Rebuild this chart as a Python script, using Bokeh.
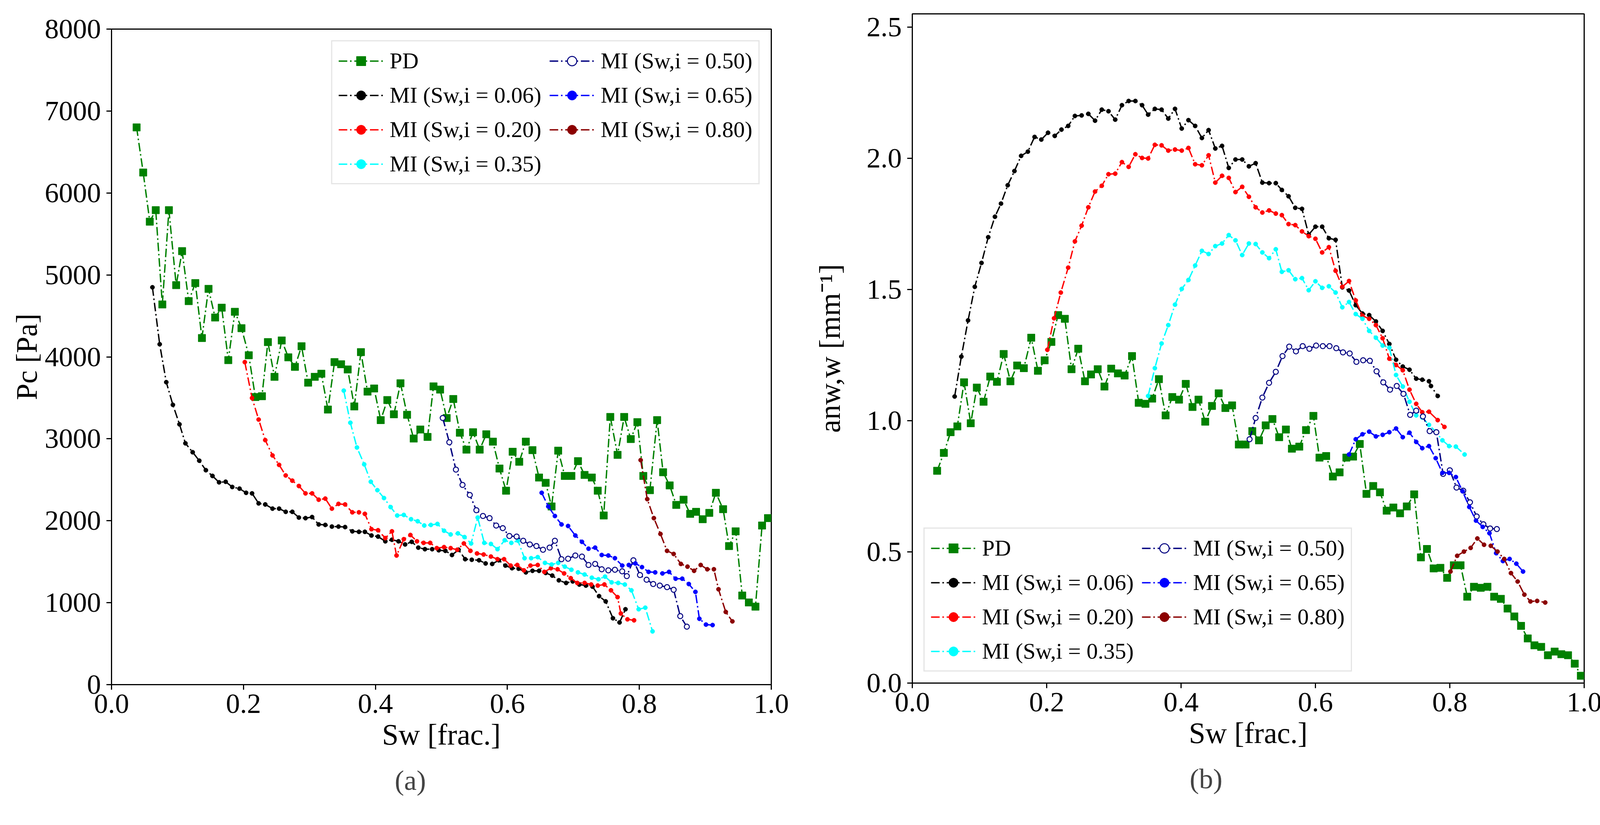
from bokeh.plotting import figure
from bokeh.layouts import row, column, Spacer
from bokeh.models import FixedTicker, PrintfTickFormatter, Title, Range1d
from bokeh.embed import file_html
from bokeh.resources import INLINE

# ---------------- data: panel (a)  Pc vs Sw ----------------
pd_sw_a = [0.038, 0.048, 0.058, 0.067, 0.077, 0.087, 0.098, 0.107, 0.117, 0.127, 0.137, 0.147,
           0.157, 0.167, 0.177, 0.187, 0.197, 0.208, 0.218, 0.228, 0.237, 0.247, 0.258, 0.268,
           0.278, 0.288, 0.298, 0.308, 0.318, 0.328, 0.338, 0.348, 0.358, 0.368, 0.378, 0.388,
           0.398, 0.408, 0.418, 0.428, 0.438, 0.448, 0.458, 0.468, 0.479, 0.488, 0.498, 0.508,
           0.518, 0.528, 0.538, 0.548, 0.558, 0.568, 0.578, 0.588, 0.598, 0.608, 0.618, 0.628,
           0.638, 0.648, 0.658, 0.667, 0.677, 0.687, 0.697, 0.707, 0.717, 0.728, 0.737, 0.746,
           0.756, 0.767, 0.777, 0.787, 0.797, 0.806, 0.816, 0.827, 0.836, 0.846, 0.856, 0.867,
           0.877, 0.886, 0.896, 0.906, 0.916, 0.927, 0.936, 0.946, 0.956, 0.966, 0.976, 0.986, 0.995]
pd_pc = [6800, 6250, 5650, 5790, 4640, 5790, 4875, 5290, 4680, 4900, 4230, 4830,
         4480, 4600, 3960, 4550, 4350, 4020, 3510, 3520, 4180, 3756, 4200, 3994,
         3878, 4130, 3685, 3756, 3794, 3357, 3936, 3910, 3846, 3395, 4058, 3576,
         3614, 3228, 3473, 3299, 3678, 3293, 3003, 3113, 3023, 3640, 3601, 3254,
         3486, 3074, 2868, 3080, 2868, 3055, 2965, 2637, 2367, 2842, 2720, 2965,
         2862, 2527, 2463, 2174, 2855, 2547, 2547, 2727, 2559, 2527, 2367, 2064,
         3267, 2804, 3267, 2997, 3203, 2547, 2373, 3228, 2592, 2431, 2193, 2257,
         2084, 2109, 2019, 2096, 2341, 2141, 1691, 1871, 1087, 1003, 952, 1942, 2032]

mi006_sw_a = [0.062, 0.073, 0.083, 0.093, 0.103, 0.112, 0.123, 0.133, 0.143, 0.153, 0.163, 0.173,
              0.183, 0.194, 0.204, 0.213, 0.223, 0.233, 0.244, 0.254, 0.264, 0.274, 0.284, 0.294,
              0.304, 0.314, 0.324, 0.334, 0.344, 0.354, 0.365, 0.375, 0.384, 0.394, 0.404, 0.415,
              0.425, 0.435, 0.445, 0.455, 0.465, 0.475, 0.486, 0.496, 0.506, 0.516, 0.526, 0.536,
              0.546, 0.557, 0.567, 0.577, 0.587, 0.597, 0.607, 0.617, 0.628, 0.638, 0.648, 0.658,
              0.668, 0.678, 0.689, 0.699, 0.709, 0.719, 0.729, 0.739, 0.749, 0.760, 0.770, 0.779]
mi006_pc = [4849, 4154, 3691, 3415, 3177, 2945, 2836, 2733, 2617, 2547, 2469, 2476,
            2412, 2392, 2341, 2334, 2212, 2199, 2148, 2148, 2109, 2109, 2039, 2032,
            2045, 1955, 1949, 1929, 1929, 1923, 1871, 1865, 1865, 1820, 1807, 1749,
            1768, 1749, 1711, 1743, 1672, 1653, 1653, 1640, 1633, 1582, 1646, 1531,
            1524, 1518, 1479, 1473, 1518, 1453, 1421, 1415, 1370, 1389, 1389, 1363,
            1331, 1273, 1241, 1260, 1222, 1209, 1196, 1080, 1016, 810, 759, 920]

mi020_sw_a = [0.202, 0.213, 0.223, 0.233, 0.244, 0.254, 0.264, 0.274, 0.284, 0.294, 0.304, 0.314,
              0.324, 0.334, 0.344, 0.354, 0.365, 0.375, 0.384, 0.394, 0.404, 0.415, 0.425, 0.432,
              0.443, 0.453, 0.463, 0.473, 0.483, 0.493, 0.504, 0.514, 0.524, 0.534, 0.544, 0.554,
              0.564, 0.575, 0.585, 0.595, 0.605, 0.615, 0.625, 0.635, 0.646, 0.656, 0.666, 0.676,
              0.686, 0.696, 0.706, 0.717, 0.727, 0.737, 0.747, 0.757, 0.767, 0.772, 0.782, 0.792]
mi020_pc = [3936, 3498, 3235, 2984, 2797, 2682, 2553, 2489, 2424, 2334, 2334, 2257,
            2270, 2148, 2206, 2199, 2103, 2103, 2084, 1897, 1884, 1788, 1871, 1576,
            1775, 1826, 1749, 1730, 1730, 1666, 1678, 1666, 1646, 1723, 1633, 1601,
            1588, 1563, 1531, 1531, 1453, 1460, 1395, 1453, 1460, 1376, 1421, 1408,
            1357, 1299, 1241, 1241, 1222, 1209, 1222, 1151, 1068, 868, 797, 785]

mi035_sw_a = [0.352, 0.362, 0.372, 0.383, 0.393, 0.403, 0.413, 0.423, 0.433, 0.443, 0.454, 0.464,
              0.474, 0.484, 0.494, 0.504, 0.514, 0.525, 0.535, 0.545, 0.555, 0.565, 0.575, 0.585,
              0.596, 0.606, 0.616, 0.626, 0.636, 0.646, 0.657, 0.667, 0.677, 0.687, 0.697, 0.707,
              0.717, 0.728, 0.738, 0.748, 0.758, 0.768, 0.778, 0.788, 0.799, 0.809, 0.820]
mi035_pc = [3588, 3196, 2894, 2688, 2476, 2373, 2277, 2167, 2064, 2071, 2019, 1994,
            1942, 1949, 1961, 1878, 1833, 1846, 1801, 1723, 2039, 1730, 1717, 1653,
            1762, 1730, 1756, 1543, 1543, 1556, 1486, 1466, 1486, 1440, 1402, 1370,
            1344, 1305, 1286, 1318, 1248, 1241, 1222, 1151, 920, 939, 650]

mi050_sw_a = [0.502, 0.512, 0.522, 0.532, 0.543, 0.553, 0.563, 0.573, 0.583, 0.593, 0.603, 0.614,
              0.624, 0.634, 0.644, 0.654, 0.664, 0.672, 0.682, 0.692, 0.703, 0.713, 0.723, 0.733,
              0.743, 0.753, 0.763, 0.774, 0.781, 0.791, 0.801, 0.811, 0.821, 0.831, 0.842, 0.852,
              0.862, 0.872]
mi050_pc = [3254, 2958, 2624, 2437, 2315, 2129, 2058, 2032, 1942, 1910, 1814, 1807,
            1756, 1711, 1691, 1646, 1672, 1756, 1531, 1537, 1576, 1563, 1460, 1473,
            1408, 1395, 1402, 1383, 1325, 1518, 1338, 1280, 1228, 1209, 1190, 1158,
            836, 707]

mi065_sw_a = [0.652, 0.662, 0.672, 0.682, 0.692, 0.703, 0.713, 0.723, 0.733, 0.743, 0.753, 0.763,
              0.774, 0.784, 0.794, 0.804, 0.814, 0.824, 0.835, 0.845, 0.855, 0.865, 0.875, 0.885,
              0.891, 0.901, 0.911]
mi065_pc = [2341, 2174, 2058, 1955, 1936, 1820, 1743, 1659, 1672, 1582, 1576, 1543,
            1453, 1460, 1479, 1434, 1376, 1370, 1357, 1376, 1293, 1293, 1228, 1132,
            804, 733, 727]

mi080_sw_a = [0.802, 0.812, 0.822, 0.832, 0.842, 0.852, 0.863, 0.873, 0.883, 0.893, 0.903, 0.913,
              0.920, 0.931, 0.941]
mi080_pc = [2740, 2264, 2032, 1839, 1633, 1595, 1473, 1440, 1389, 1460, 1408, 1408,
            1164, 887, 772]

# ---------------- data: panel (b)  a_nw,w vs Sw ----------------
pd_sw_b = [0.037, 0.047, 0.057, 0.067, 0.077, 0.087, 0.096, 0.106, 0.116, 0.126, 0.136, 0.146,
           0.156, 0.166, 0.177, 0.187, 0.197, 0.207, 0.217, 0.227, 0.237, 0.247, 0.257, 0.266,
           0.276, 0.286, 0.296, 0.306, 0.316, 0.327, 0.337, 0.347, 0.357, 0.367, 0.377, 0.387,
           0.397, 0.407, 0.417, 0.426, 0.436, 0.446, 0.456, 0.466, 0.476, 0.486, 0.496, 0.506,
           0.516, 0.526, 0.536, 0.546, 0.556, 0.565, 0.576, 0.586, 0.597, 0.606, 0.616, 0.626,
           0.636, 0.646, 0.656, 0.666, 0.676, 0.686, 0.696, 0.706, 0.716, 0.726, 0.736, 0.747,
           0.757, 0.766, 0.776, 0.786, 0.796, 0.806, 0.816, 0.826, 0.836, 0.846, 0.856, 0.866,
           0.876, 0.886, 0.896, 0.906, 0.916, 0.926, 0.936, 0.946, 0.956, 0.966, 0.976, 0.986, 0.995]
pd_a = [0.809, 0.877, 0.956, 0.978, 1.146, 0.990, 1.126, 1.072, 1.168, 1.148, 1.254, 1.150,
        1.210, 1.200, 1.316, 1.190, 1.230, 1.300, 1.402, 1.388, 1.196, 1.274, 1.150, 1.176,
        1.196, 1.130, 1.198, 1.180, 1.172, 1.246, 1.068, 1.064, 1.084, 1.158, 1.020, 1.090,
        1.080, 1.140, 1.052, 1.080, 0.996, 1.056, 1.104, 1.048, 1.058, 0.909, 0.909, 0.960,
        0.925, 0.982, 1.006, 0.937, 0.966, 0.893, 0.901, 0.964, 1.018, 0.859, 0.865, 0.787,
        0.803, 0.859, 0.863, 0.911, 0.721, 0.751, 0.727, 0.657, 0.669, 0.647, 0.673, 0.719,
        0.479, 0.511, 0.437, 0.439, 0.401, 0.449, 0.449, 0.329, 0.367, 0.363, 0.367, 0.329,
        0.321, 0.284, 0.254, 0.218, 0.170, 0.144, 0.138, 0.106, 0.120, 0.110, 0.106, 0.074, 0.028]

mi006_sw_b = [0.063, 0.073, 0.083, 0.093, 0.103, 0.113, 0.123, 0.132, 0.142, 0.152, 0.162, 0.172,
              0.182, 0.192, 0.202, 0.212, 0.222, 0.232, 0.242, 0.252, 0.262, 0.272, 0.282, 0.292,
              0.302, 0.312, 0.322, 0.332, 0.342, 0.351, 0.361, 0.371, 0.381, 0.391, 0.401, 0.411,
              0.421, 0.431, 0.441, 0.451, 0.461, 0.471, 0.481, 0.491, 0.501, 0.511, 0.521, 0.531,
              0.541, 0.550, 0.560, 0.570, 0.580, 0.590, 0.600, 0.610, 0.620, 0.630, 0.640, 0.650,
              0.660, 0.670, 0.680, 0.690, 0.700, 0.710, 0.720, 0.730, 0.740, 0.750, 0.759, 0.769,
              0.772, 0.782]
mi006_a = [1.092, 1.244, 1.382, 1.510, 1.601, 1.699, 1.777, 1.827, 1.897, 1.951, 2.009, 2.025,
           2.081, 2.071, 2.097, 2.085, 2.109, 2.123, 2.161, 2.163, 2.169, 2.143, 2.185, 2.179,
           2.147, 2.202, 2.218, 2.218, 2.202, 2.166, 2.188, 2.185, 2.151, 2.188, 2.113, 2.145,
           2.123, 2.077, 2.107, 2.037, 2.047, 1.963, 1.995, 1.995, 1.969, 1.981, 1.907, 1.905,
           1.905, 1.879, 1.855, 1.811, 1.807, 1.709, 1.739, 1.739, 1.695, 1.689, 1.508, 1.496,
           1.440, 1.408, 1.402, 1.378, 1.342, 1.292, 1.232, 1.206, 1.194, 1.160, 1.156, 1.150,
           1.132, 1.094]

mi020_sw_b = [0.201, 0.211, 0.221, 0.232, 0.242, 0.252, 0.262, 0.272, 0.282, 0.292, 0.302, 0.312,
              0.322, 0.332, 0.342, 0.351, 0.361, 0.371, 0.381, 0.391, 0.401, 0.411, 0.421, 0.431,
              0.441, 0.451, 0.461, 0.471, 0.481, 0.491, 0.501, 0.511, 0.521, 0.531, 0.541, 0.550,
              0.560, 0.570, 0.580, 0.590, 0.600, 0.610, 0.620, 0.630, 0.640, 0.650, 0.660, 0.670,
              0.680, 0.690, 0.700, 0.710, 0.720, 0.730, 0.740, 0.750, 0.759, 0.769, 0.782, 0.792]
mi020_a = [1.270, 1.390, 1.488, 1.583, 1.683, 1.743, 1.813, 1.873, 1.895, 1.939, 1.941, 1.985,
           1.967, 2.015, 2.001, 1.999, 2.051, 2.049, 2.029, 2.033, 2.029, 2.039, 1.977, 1.973,
           2.011, 1.907, 1.933, 1.925, 1.871, 1.891, 1.853, 1.813, 1.793, 1.801, 1.789, 1.783,
           1.749, 1.745, 1.721, 1.703, 1.693, 1.641, 1.661, 1.571, 1.510, 1.532, 1.458, 1.400,
           1.388, 1.364, 1.314, 1.236, 1.212, 1.192, 1.118, 1.064, 1.032, 1.034, 1.002, 0.976]

mi035_sw_b = [0.351, 0.361, 0.371, 0.381, 0.391, 0.401, 0.411, 0.421, 0.431, 0.441, 0.451, 0.461,
              0.471, 0.481, 0.491, 0.501, 0.511, 0.521, 0.531, 0.541, 0.550, 0.560, 0.570, 0.580,
              0.590, 0.600, 0.610, 0.620, 0.630, 0.640, 0.650, 0.660, 0.670, 0.680, 0.690, 0.700,
              0.710, 0.720, 0.730, 0.740, 0.750, 0.759, 0.769, 0.779, 0.789, 0.799, 0.809, 0.822]
mi035_a = [1.094, 1.200, 1.294, 1.364, 1.442, 1.502, 1.536, 1.591, 1.647, 1.635, 1.665, 1.675,
           1.707, 1.687, 1.631, 1.675, 1.673, 1.641, 1.619, 1.653, 1.567, 1.573, 1.539, 1.543,
           1.497, 1.531, 1.506, 1.512, 1.488, 1.432, 1.452, 1.406, 1.388, 1.342, 1.316, 1.286,
           1.278, 1.174, 1.130, 1.072, 1.020, 1.012, 0.984, 0.958, 0.925, 0.903, 0.901, 0.871]

mi050_sw_b = [0.502, 0.511, 0.521, 0.531, 0.541, 0.551, 0.561, 0.571, 0.581, 0.591, 0.601, 0.611,
              0.621, 0.631, 0.641, 0.651, 0.661, 0.671, 0.681, 0.691, 0.701, 0.711, 0.721, 0.731,
              0.741, 0.750, 0.760, 0.770, 0.780, 0.790, 0.800, 0.810, 0.820, 0.830, 0.840, 0.850,
              0.860, 0.870]
mi050_a = [0.929, 1.010, 1.088, 1.144, 1.186, 1.246, 1.282, 1.264, 1.284, 1.274, 1.286, 1.284,
           1.284, 1.276, 1.260, 1.256, 1.224, 1.230, 1.228, 1.188, 1.146, 1.118, 1.132, 1.102,
           1.022, 1.038, 1.016, 0.960, 0.956, 0.797, 0.811, 0.745, 0.733, 0.689, 0.635, 0.605,
           0.589, 0.587]

mi065_sw_b = [0.650, 0.660, 0.670, 0.680, 0.690, 0.700, 0.710, 0.720, 0.730, 0.740, 0.750, 0.759,
              0.769, 0.779, 0.789, 0.799, 0.809, 0.819, 0.829, 0.839, 0.849, 0.859, 0.869, 0.879,
              0.889, 0.899, 0.909]
mi065_a = [0.871, 0.929, 0.948, 0.958, 0.940, 0.946, 0.956, 0.970, 0.937, 0.954, 0.919, 0.895,
           0.903, 0.857, 0.801, 0.801, 0.785, 0.731, 0.671, 0.619, 0.595, 0.571, 0.495, 0.465,
           0.473, 0.455, 0.425]

mi080_sw_b = [0.801, 0.811, 0.821, 0.831, 0.841, 0.851, 0.861, 0.871, 0.881, 0.891, 0.901, 0.911,
              0.920, 0.930, 0.942]
mi080_a = [0.425, 0.485, 0.501, 0.515, 0.551, 0.527, 0.523, 0.501, 0.473, 0.419, 0.387, 0.337,
           0.311, 0.313, 0.307]

labels = ["PD", "MI (Sw,i = 0.06)", "MI (Sw,i = 0.20)", "MI (Sw,i = 0.35)",
          "MI (Sw,i = 0.50)", "MI (Sw,i = 0.65)", "MI (Sw,i = 0.80)"]
colors = ["green", "black", "red", "cyan", "navy", "blue", "darkred"]

x_ticks = [0.0, 0.2, 0.4, 0.6, 0.8, 1.0]
ya_ticks = [0, 1000, 2000, 3000, 4000, 5000, 6000, 7000, 8000]
yb_ticks = [0.0, 0.5, 1.0, 1.5, 2.0, 2.5]

series_a = [(pd_sw_a, pd_pc), (mi006_sw_a, mi006_pc), (mi020_sw_a, mi020_pc), (mi035_sw_a, mi035_pc),
            (mi050_sw_a, mi050_pc), (mi065_sw_a, mi065_pc), (mi080_sw_a, mi080_pc)]
series_b = [(pd_sw_b, pd_a), (mi006_sw_b, mi006_a), (mi020_sw_b, mi020_a), (mi035_sw_b, mi035_a),
            (mi050_sw_b, mi050_a), (mi065_sw_b, mi065_a), (mi080_sw_b, mi080_a)]

FONT = "Liberation Serif"
TICK_FS = "72px"
LABEL_FS = "76px"
LEG_FS = "58px"


def make_fig(series, width, height, b_left, b_right, b_top, b_bottom, ymax, yticks, yfmt,
             ylabel, panel, legend_loc, title_offset, ylab_standoff):
    p = figure(width=width, height=height, output_backend="svg", toolbar_location=None,
               x_range=Range1d(0, 1), y_range=Range1d(0, ymax),
               min_border_left=b_left, min_border_right=b_right,
               min_border_top=b_top, min_border_bottom=b_bottom)
    p.title.visible = False
    p.xgrid.visible = False
    p.ygrid.visible = False
    p.outline_line_color = "black"
    p.outline_line_width = 3
    p.outline_line_alpha = 1.0
    for i, (xs, ys) in enumerate(series):
        c = colors[i]
        p.line(xs, ys, line_color=c, line_width=3.5, line_dash="22 7 4 7", legend_label=labels[i])
        if i == 0:
            p.scatter(xs, ys, marker="square", size=19, line_color=c, fill_color=c,
                      legend_label=labels[i])
        elif i == 4:
            p.scatter(xs, ys, marker="circle", size=13, line_color=c, line_width=2.5,
                      fill_color="white", legend_label=labels[i])
        else:
            p.scatter(xs, ys, marker="circle", size=11, line_color=c, fill_color=c,
                      legend_label=labels[i])

    for ax in (p.xaxis[0], p.yaxis[0]):
        ax.axis_line_width = 3
        ax.major_tick_line_width = 3
        ax.major_tick_out = 13
        ax.major_tick_in = 0
        ax.minor_tick_out = 0
        ax.minor_tick_in = 0
        ax.major_label_text_font = FONT
        ax.major_label_text_font_size = TICK_FS
        ax.major_label_text_color = "black"
        ax.axis_label_text_font = FONT
        ax.axis_label_text_font_size = LABEL_FS
        ax.axis_label_text_font_style = "normal"
        ax.axis_label_text_color = "black"
    p.xaxis.ticker = FixedTicker(ticks=x_ticks)
    p.xaxis.formatter = PrintfTickFormatter(format="%.1f")
    p.yaxis.ticker = FixedTicker(ticks=yticks)
    p.yaxis.formatter = PrintfTickFormatter(format=yfmt)
    p.xaxis.axis_label = "Sw [frac.]"
    p.yaxis.axis_label = ylabel
    p.xaxis.major_label_standoff = 12
    p.yaxis.major_label_standoff = 14
    p.xaxis.axis_label_standoff = 10
    p.yaxis.axis_label_standoff = ylab_standoff

    leg = p.legend[0]
    leg.location = legend_loc
    leg.orientation = "vertical"
    leg.nrows = 4
    leg.label_text_font = FONT
    leg.label_text_font_size = LEG_FS
    leg.label_text_color = "black"
    leg.glyph_width = 115
    leg.glyph_height = 60
    leg.label_height = 60
    leg.label_standoff = 16
    leg.spacing = 21
    leg.padding = 16
    leg.margin = 29
    leg.border_line_color = "#cccccc"
    leg.border_line_width = 3
    leg.background_fill_color = "white"
    leg.background_fill_alpha = 0.8

    t = Title(text=panel, align="left", offset=title_offset, text_font=FONT,
              text_font_size="72px", text_font_style="normal", standoff=62)
    p.add_layout(t, "below")
    return p


# left panel: frame top at y=82, bottom at 1761 ; right panel: frame top 43, bottom 1757
pa = make_fig(series_a, 2060, 2066, 285, 86, 50, 337, 8000, ya_ticks, "%d",
              "Pc [Pa]", "(a)", "top_right", 725, 2)
pb = make_fig(series_b, 2055, 2090, 275, 60, 35, 341, 2.55, yb_ticks, "%.1f",
              "anw,w [mm\u207b\u00b9]", "(b)", "bottom_left", 710, 50)

layout = row(column(Spacer(width=2060, height=24), pa), pb)
open("out.html", "w").write(file_html(layout, INLINE))
